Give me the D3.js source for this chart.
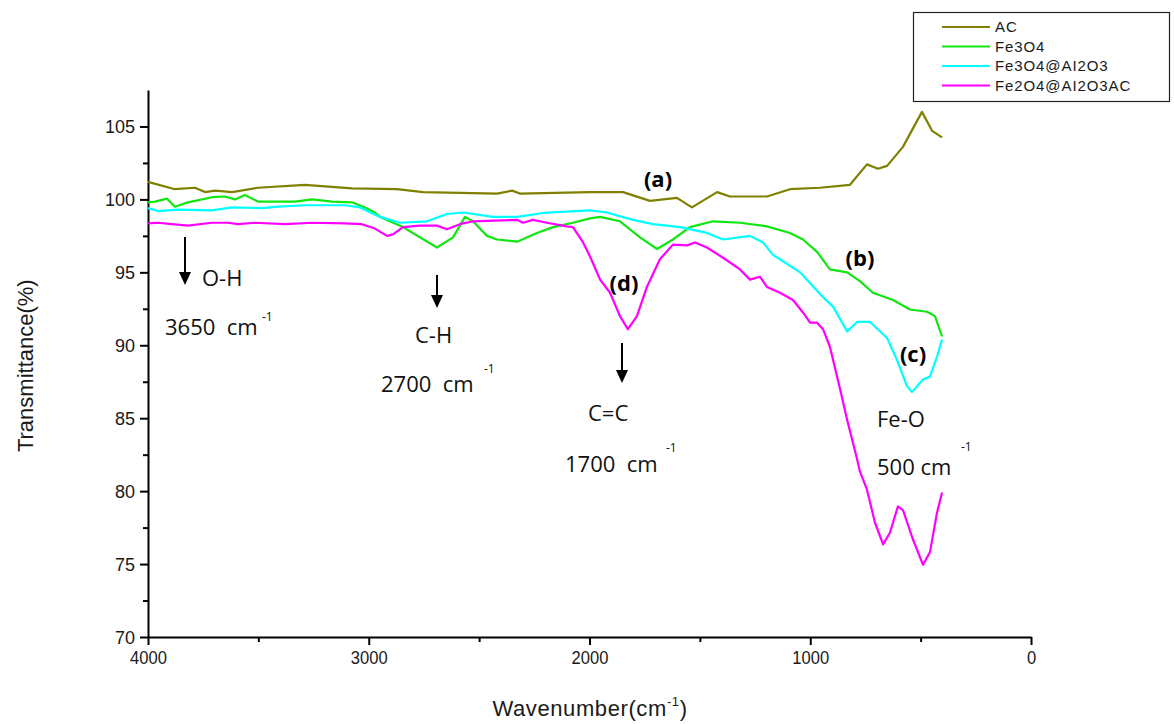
<!DOCTYPE html>
<html>
<head>
<meta charset="utf-8">
<script src="https://cdn.jsdelivr.net/npm/d3@7"></script>
<style>
  body { margin: 0; background: #fff; }
  svg { display: block; font-family: "Liberation Sans", Arial, sans-serif; }
</style>
</head>
<body>
<div class="chart"></div>
<script>
// FTIR spectra, [wavenumber cm-1, transmittance %]
const seriesNames = ["AC", "Fe3O4", "Fe3O4@AI2O3", "Fe2O4@AI2O3AC"];
const seriesColors = ["#808000", "#11e611", "#00ffff", "#ff00ff"];

const acData = [
  [4000, 101.2], [3878, 100.7], [3787, 100.8], [3742, 100.5], [3696, 100.6], [3619, 100.5],
  [3502, 100.8], [3289, 101.0], [3076, 100.75], [2872, 100.7], [2754, 100.5], [2419, 100.4],
  [2351, 100.6], [2315, 100.4], [1998, 100.5], [1848, 100.5], [1726, 99.9], [1604, 100.1],
  [1536, 99.45], [1422, 100.5], [1364, 100.2], [1196, 100.2], [1092, 100.7], [956, 100.8],
  [820, 101.0], [743, 102.4], [693, 102.1], [652, 102.3], [580, 103.6], [494, 106.0],
  [448, 104.7], [403, 104.25]
];

const fe3o4Data = [
  [4000, 99.8], [3968, 99.85], [3914, 100.05], [3878, 99.5], [3819, 99.8], [3710, 100.15],
  [3651, 100.2], [3606, 100.0], [3561, 100.3], [3502, 99.85], [3334, 99.85], [3257, 100.0],
  [3166, 99.85], [3076, 99.8], [3017, 99.45], [2972, 99.1], [2949, 98.8], [2845, 98.1],
  [2691, 96.7], [2618, 97.4], [2564, 98.8], [2528, 98.5], [2464, 97.5], [2419, 97.25],
  [2328, 97.1], [2238, 97.7], [2165, 98.1], [2075, 98.4], [1998, 98.7], [1952, 98.8],
  [1862, 98.5], [1771, 97.4], [1694, 96.6], [1622, 97.25], [1545, 98.1], [1441, 98.5],
  [1318, 98.4], [1196, 98.15], [1092, 97.7], [1033, 97.25], [969, 96.4], [911, 95.2],
  [833, 95.0], [775, 94.4], [716, 93.6], [625, 93.1], [548, 92.45], [471, 92.3],
  [435, 92.0], [403, 90.6]
];

const fe3o4Al2o3Data = [
  [4000, 99.4], [3955, 99.2], [3864, 99.3], [3710, 99.25], [3619, 99.45], [3484, 99.4],
  [3411, 99.5], [3289, 99.6], [3108, 99.6], [3040, 99.45], [2949, 98.8], [2858, 98.4],
  [2736, 98.5], [2646, 99.0], [2573, 99.1], [2437, 98.8], [2328, 98.8], [2193, 99.1],
  [1998, 99.25], [1921, 99.1], [1803, 98.6], [1712, 98.3], [1590, 98.1], [1468, 97.7],
  [1395, 97.25], [1273, 97.5], [1214, 97.05], [1169, 96.2], [1137, 95.9], [1046, 95.0],
  [942, 93.3], [897, 92.65], [833, 90.95], [788, 91.6], [729, 91.6], [652, 90.5],
  [607, 89.0], [562, 87.2], [539, 86.8], [489, 87.65], [458, 87.85], [426, 89.2], [403, 90.4]
];

const fe2o4Al2o3AcData = [
  [4000, 98.35], [3955, 98.4], [3891, 98.3], [3819, 98.2], [3710, 98.4], [3638, 98.4],
  [3592, 98.3], [3515, 98.4], [3379, 98.3], [3257, 98.4], [3108, 98.35], [3031, 98.3],
  [2972, 98.0], [2917, 97.5], [2890, 97.6], [2845, 98.1], [2768, 98.2], [2691, 98.2],
  [2646, 97.95], [2587, 98.3], [2528, 98.5], [2328, 98.6], [2301, 98.4], [2256, 98.6],
  [2193, 98.4], [2102, 98.15], [2075, 98.1], [2029, 97.05], [1998, 96.1], [1952, 94.5],
  [1907, 93.6], [1862, 92.0], [1826, 91.1], [1785, 92.0], [1740, 94.0], [1681, 95.9],
  [1622, 96.9], [1558, 96.85], [1522, 97.05], [1468, 96.7], [1395, 96.0], [1318, 95.2],
  [1273, 94.5], [1228, 94.7], [1196, 94.0], [1137, 93.6], [1078, 93.1], [1033, 92.25],
  [1001, 91.55], [969, 91.55], [942, 91.1], [911, 89.9], [865, 87.0], [833, 84.9],
  [788, 82.2], [775, 81.35], [743, 80.1], [707, 77.85], [670, 76.35], [639, 77.15],
  [603, 78.95], [580, 78.7], [535, 76.7], [489, 74.95], [458, 75.8], [426, 78.5], [403, 79.9]
];

const allSeries = [acData, fe3o4Data, fe3o4Al2o3Data, fe2o4Al2o3AcData];

const xTicks = [4000, 3000, 2000, 1000, 0];
const yTicks = [70, 75, 80, 85, 90, 95, 100, 105];

const width = 1174, height = 724;
const margin = {left: 148, right: 143, top: 90, bottom: 87};

const svg = d3.select(".chart").append("svg")
  .attr("width", width)
  .attr("height", height);

const x = d3.scaleLinear().domain([4000, 0]).range([margin.left, width - margin.right]);
const y = d3.scaleLinear().domain([70, 107.5]).range([height - margin.bottom, margin.top]);

// axes
const xAxis = svg.append("g")
  .attr("transform", "translate(0," + y(70) + ")")
  .call(d3.axisBottom(x).tickValues(xTicks).tickFormat(d3.format("d"))
    .tickSize(8).tickSizeOuter(0).tickPadding(6));
svg.append("g")
  .attr("transform", "translate(0," + y(70) + ")")
  .call(d3.axisBottom(x).tickValues([3500, 2500, 1500, 500]).tickSize(5).tickFormat(""))
  .select(".domain").remove();

const yAxis = svg.append("g")
  .attr("transform", "translate(" + x(4000) + ",0)")
  .call(d3.axisLeft(y).tickValues(yTicks).tickSize(8).tickSizeOuter(0).tickPadding(5));
svg.append("g")
  .attr("transform", "translate(" + x(4000) + ",0)")
  .call(d3.axisLeft(y).tickValues([72.5, 77.5, 82.5, 87.5, 92.5, 97.5, 102.5]).tickSize(5).tickFormat(""))
  .select(".domain").remove();

svg.selectAll(".domain").attr("stroke", "#000").attr("stroke-width", 2);
svg.selectAll(".tick line").attr("stroke", "#000").attr("stroke-width", 2);
svg.selectAll(".tick text")
  .attr("font-family", "'Liberation Sans', Arial, sans-serif")
  .attr("font-size", 18)
  .attr("fill", "#1a1a1a");
yAxis.selectAll(".tick text").attr("dy", "0.36em");
xAxis.selectAll(".tick text").attr("textLength", d => String(d).length * 9.2).attr("lengthAdjust", "spacingAndGlyphs");

// axis titles
svg.append("text")
  .attr("transform", "translate(33," + y(88.6) + ") rotate(-90)")
  .attr("text-anchor", "middle")
  .attr("font-size", 22)
  .attr("fill", "#1a1a1a")
  .text("Transmittance(%)");

const xt = svg.append("text")
  .attr("x", 590)
  .attr("y", 716)
  .attr("text-anchor", "middle")
  .attr("font-size", 22)
  .attr("letter-spacing", 0.6)
  .attr("fill", "#1a1a1a");
xt.append("tspan").text("Wavenumber(cm");
xt.append("tspan").attr("font-size", 13).attr("dy", -10).text("-1");
xt.append("tspan").attr("dy", 10).text(")");

// spectra
const line = d3.line()
  .x(d => x(d[0]))
  .y(d => y(d[1]));

svg.append("g").selectAll("path")
  .data(allSeries)
  .join("path")
  .attr("d", line)
  .attr("fill", "none")
  .attr("stroke", (d, i) => seriesColors[i])
  .attr("stroke-width", 2.2)
  .attr("stroke-linejoin", "round");

// curve labels
const curveLabels = [
  {t: "(a)", px: 658, py: 187},
  {t: "(b)", px: 860, py: 266},
  {t: "(c)", px: 913, py: 362},
  {t: "(d)", px: 624, py: 291}
];
svg.append("g").selectAll("text")
  .data(curveLabels)
  .join("text")
  .attr("x", d => d.px)
  .attr("y", d => d.py)
  .attr("text-anchor", "middle")
  .attr("font-family", "'Open Sans', 'Noto Sans', sans-serif")
  .attr("font-weight", "bold")
  .attr("font-size", 22)
  .attr("fill", "#000")
  .text(d => d.t);

// band annotations
const arrows = [
  {x: 185, y1: 237, y2: 285},
  {x: 437, y1: 275, y2: 308},
  {x: 622, y1: 343, y2: 383}
];
const arrowG = svg.append("g");
arrows.forEach(a => {
  arrowG.append("line")
    .attr("x1", a.x).attr("x2", a.x)
    .attr("y1", a.y1).attr("y2", a.y2 - 8)
    .attr("stroke", "#000").attr("stroke-width", 2);
  arrowG.append("path")
    .attr("d", `M${a.x - 6},${a.y2 - 13} L${a.x + 6},${a.y2 - 13} L${a.x},${a.y2} Z`)
    .attr("fill", "#000");
});

const bandTexts = [
  {t: "O-H", px: 202, py: 286, fs: 22},
  {t: "3650  cm", px: 165, py: 335, fs: 22},
  {t: "-1", px: 262, py: 321, fs: 12},
  {t: "C-H", px: 415, py: 343, fs: 22},
  {t: "2700  cm", px: 381, py: 392, fs: 22},
  {t: "-1", px: 484, py: 373, fs: 12},
  {t: "C=C", px: 588, py: 421, fs: 22},
  {t: "1700  cm", px: 565, py: 472, fs: 22},
  {t: "-1", px: 666, py: 452, fs: 12},
  {t: "Fe-O", px: 877, py: 427, fs: 22},
  {t: "500 cm", px: 877, py: 475, fs: 22},
  {t: "-1", px: 961, py: 451, fs: 12}
];
svg.append("g").selectAll("text")
  .data(bandTexts)
  .join("text")
  .attr("x", d => d.px)
  .attr("y", d => d.py)
  .attr("font-family", "'Open Sans', 'Noto Sans', sans-serif")
  .attr("font-size", d => d.fs)
  .attr("fill", "#111")
  .style("white-space", "pre")
  .text(d => d.t);

// legend
const legend = svg.append("g");
legend.append("rect")
  .attr("x", 913.5).attr("y", 12.5)
  .attr("width", 256).attr("height", 89)
  .attr("fill", "#fff")
  .attr("stroke", "#222").attr("stroke-width", 1.2);
seriesNames.forEach((name, i) => {
  const ly = 27 + i * 19.5;
  legend.append("line")
    .attr("x1", 942).attr("x2", 990)
    .attr("y1", ly).attr("y2", ly)
    .attr("stroke", seriesColors[i]).attr("stroke-width", 2.2);
  legend.append("text")
    .attr("x", 995).attr("y", ly)
    .attr("dy", "0.36em")
    .attr("font-size", 15)
    .attr("letter-spacing", 0.9)
    .attr("fill", "#1a1a1a")
    .text(name);
});
</script>
</body>
</html>
